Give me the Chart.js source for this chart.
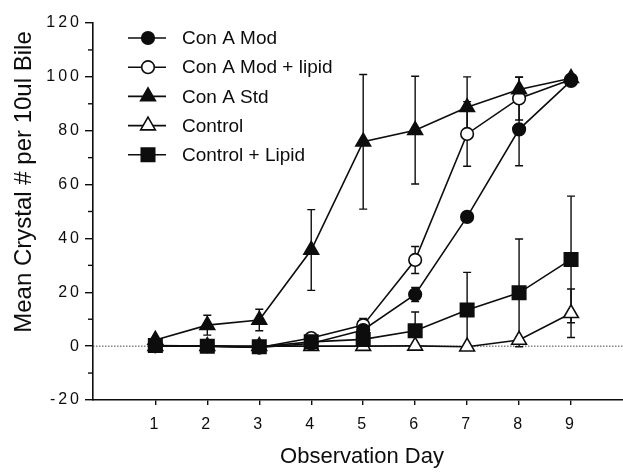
<!DOCTYPE html>
<html>
<head>
<meta charset="utf-8">
<script src="https://cdn.jsdelivr.net/npm/chart.js@4.4.1/dist/chart.umd.min.js"></script>
<style>
  html, body { margin: 0; padding: 0; background: #fff; }
  canvas { display: block; }
</style>
</head>
<body>
<canvas id="crystalChart" width="623" height="472"></canvas>
<script>
// observation days and tick values
const days = [1, 2, 3, 4, 5, 6, 7, 8, 9];
const yTickStep = 20;

// mean crystal counts per 10ul bile
const conAMod        = [0, 0, -0.5, 1, 6, 19.2, 48, 80.5, 98.5];
const conAModErr     = [0, 0, 0, 0, 0, 2.6, 0, 13.5, 0];
const conAModLipid   = [0, 0, -0.5, 3, 7.8, 32, 78.8, 92, 99];
const conAModLipidErr= [0, 0, 0, 0, 2.5, 5, 12, 8, 0];
const conAStd        = [2.3, 7.8, 9.7, 35.7, 75.9, 80.2, 88.7, 95.3, 99.5];
const conAStdErr     = [0, 3.7, 4, 15, 25, 20, 11.3, 4.5, 0];
const control        = [0, 0, 0, 0, 0, 0.1, -0.2, 2.3, 12.2];
const controlErr     = [0, 0, 0, 0, 0, 0, 0, 0, 9];
const controlLipid   = [0.2, 0, -0.2, 1.6, 2.5, 5.7, 13.4, 19.8, 32.2];
const controlLipidErr= [0, 0, 0, 0, 0, 7, 14, 20, 23.5];

const INK = "#0d0d0d";
const FONT = "'Liberation Sans', Arial, Helvetica, sans-serif";

const series = [
    { label: "Con A Mod", values: conAMod, err: conAModErr, style: "circle", radius: 6.3, fill: INK, order: 2 },
    { label: "Con A Mod + lipid", values: conAModLipid, err: conAModLipidErr, style: "circle", radius: 6.3, fill: "#fff", order: 3 },
    { label: "Con A Std", values: conAStd, err: conAStdErr, style: "triangle", radius: 8.5, fill: INK, order: 1 },
    { label: "Control", values: control, err: controlErr, style: "triangle", radius: 8.5, fill: "#fff", order: 4 },
    { label: "Control + Lipid", values: controlLipid, err: controlLipidErr, style: "rect", radius: 9.5, fill: INK, order: 0 }
];

function drawMarker(ctx, s, x, y) {
    const r = s.radius;
    ctx.beginPath();
    if (s.style === "circle") {
        ctx.arc(x, y, r, 0, Math.PI * 2);
    } else if (s.style === "triangle") {
        ctx.moveTo(x, y - r);
        ctx.lineTo(x + r * 0.866, y + r / 2);
        ctx.lineTo(x - r * 0.866, y + r / 2);
        ctx.closePath();
    } else {
        const h = r * Math.SQRT1_2;
        ctx.rect(x - h, y - h, 2 * h, 2 * h);
    }
    ctx.fillStyle = s.fill;
    ctx.fill();
    ctx.lineWidth = 1.6;
    ctx.strokeStyle = INK;
    ctx.stroke();
}

// error bars + dotted zero line under the lines, titles/legend/minor ticks on top
const extras = {
    id: "extras",
    beforeDraw(chart) {
        chart.ctx.letterSpacing = "3px";
    },
    beforeDatasetsDraw(chart) {
        const ctx = chart.ctx;
        const xs = chart.scales.x, ys = chart.scales.y;
        const area = chart.chartArea;
        ctx.save();
        ctx.letterSpacing = "0px";
        // zero line
        const y0 = ys.getPixelForValue(0);
        ctx.setLineDash([1.5, 1.5]);
        ctx.strokeStyle = "#444";
        ctx.lineWidth = 1;
        ctx.beginPath();
        ctx.moveTo(area.left, y0);
        ctx.lineTo(area.right, y0);
        ctx.stroke();
        ctx.setLineDash([]);
        // error bars
        ctx.strokeStyle = INK;
        ctx.lineWidth = 1.4;
        series.forEach(s => {
            s.err.forEach((e, i) => {
                if (!e) return;
                const x = xs.getPixelForValue(days[i]);
                const yt = ys.getPixelForValue(s.values[i] + e);
                const yb = ys.getPixelForValue(s.values[i] - e);
                ctx.beginPath();
                ctx.moveTo(x, yt); ctx.lineTo(x, yb);
                ctx.moveTo(x - 4, yt); ctx.lineTo(x + 4, yt);
                ctx.moveTo(x - 4, yb); ctx.lineTo(x + 4, yb);
                ctx.stroke();
            });
        });
        ctx.restore();
    },
    afterDraw(chart) {
        const ctx = chart.ctx;
        const ys = chart.scales.y;
        const area = chart.chartArea;
        ctx.save();
        ctx.letterSpacing = "0px";
        // minor ticks on the y axis
        ctx.strokeStyle = INK;
        ctx.lineWidth = 1.4;
        for (let v = ys.min + yTickStep / 2; v < ys.max; v += yTickStep) {
            const y = ys.getPixelForValue(v);
            ctx.beginPath();
            ctx.moveTo(area.left - 5, y);
            ctx.lineTo(area.left, y);
            ctx.stroke();
        }
        // axis titles
        ctx.fillStyle = INK;
        ctx.textAlign = "center";
        ctx.textBaseline = "middle";
        ctx.font = "22px " + FONT;
        ctx.fillText("Observation Day", 362, 457);
        ctx.save();
        ctx.translate(24, 182);
        ctx.rotate(-Math.PI / 2);
        ctx.font = "24px " + FONT;
        ctx.fillText("Mean Crystal # per 10ul Bile", 0, 0);
        ctx.restore();
        // legend
        ctx.font = "19px " + FONT;
        ctx.textAlign = "left";
        series.forEach((s, i) => {
            const y = 38 + i * 29.2;
            ctx.strokeStyle = INK;
            ctx.lineWidth = 1.6;
            ctx.beginPath();
            ctx.moveTo(128, y);
            ctx.lineTo(166, y);
            ctx.stroke();
            drawMarker(ctx, s, 148, y);
            ctx.fillStyle = INK;
            ctx.fillText(s.label, 182, y + 1);
        });
        ctx.restore();
    }
};

const ctx = document.getElementById("crystalChart").getContext("2d");

new Chart(ctx, {
    type: "line",
    data: {
        datasets: series.map(s => ({
            label: s.label,
            data: days.map((d, i) => ({ x: d, y: s.values[i] })),
            borderColor: INK,
            borderWidth: 1.6,
            backgroundColor: s.fill,
            pointStyle: s.style,
            pointRadius: s.radius,
            pointBorderColor: INK,
            pointBackgroundColor: s.fill,
            pointBorderWidth: 1.6,
            fill: false,
            tension: 0,
            order: s.order
        }))
    },
    options: {
        responsive: false,
        animation: false,
        events: [],
        layout: { autoPadding: false, padding: { top: 23, left: 0, right: 0, bottom: 0 } },
        plugins: {
            legend: { display: false },
            tooltip: { enabled: false }
        },
        scales: {
            x: {
                type: "linear",
                min: -0.2,
                max: 10,
                afterBuildTicks: scale => { scale.ticks = days.map(v => ({ value: v })); },
                afterFit: scale => {
                    scale.height = 72;
                    scale.paddingLeft = 0;
                    scale.paddingRight = 0;
                },
                grid: { drawOnChartArea: false, drawTicks: true, tickLength: 5, color: INK, lineWidth: 1.4 },
                border: { display: true, color: INK, width: 1.6 },
                ticks: { color: INK, font: { family: FONT, size: 16 }, padding: 10, maxRotation: 0 }
            },
            y: {
                min: -20,
                max: 120,
                afterFit: scale => {
                    scale.width = 93;
                    scale.paddingTop = 0;
                    scale.paddingBottom = 0;
                },
                grid: { drawOnChartArea: false, drawTicks: true, tickLength: 8, color: INK, lineWidth: 1.4 },
                border: { display: true, color: INK, width: 1.6 },
                ticks: { stepSize: yTickStep, color: INK, font: { family: FONT, size: 16 }, padding: 3 }
            }
        }
    },
    plugins: [extras]
});
</script>
</body>
</html>
